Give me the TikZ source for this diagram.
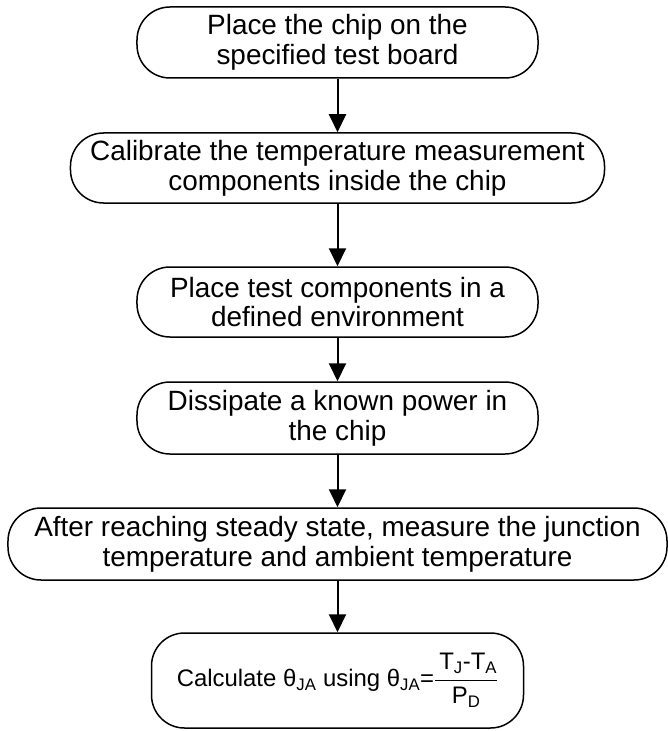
\documentclass[tikz,border=0pt]{standalone}
\usepackage{fontspec}
\setmainfont{Liberation Sans}
\usetikzlibrary{arrows.meta}

\begin{document}
\begin{tikzpicture}[x=1bp,y=-1bp,>={Triangle[length=18bp,width=17bp]},
    box/.style={draw,line width=1.5bp,rounded corners=33bp,minimum height=71bp,align=center,
      font=\fontsize{28}{30}\selectfont,inner sep=0pt}]
    \path (0,0) rectangle (658,731);

    \node[box,minimum width=401bp] (board) at (337.5,42.5) {Place the chip on the\\specified test board};
    \node[box,minimum width=534bp,minimum height=70bp] (calib) at (337.5,168) {Calibrate the temperature measurement\\components inside the chip};
    \node[box,minimum width=401bp,minimum height=70bp] (env) at (337.5,302) {Place test components in a\\defined environment};
    \node[box,minimum width=401bp,minimum height=72bp] (power) at (337.5,418) {Dissipate a known power in\\the chip};
    \node[box,minimum width=659bp,minimum height=72bp] (steady) at (337.5,544) {After reaching steady state, measure the junction\\temperature and ambient temperature};
    \node[box,minimum width=372bp,minimum height=95bp,font=\fontsize{24}{28}\selectfont] (theta) at (337.5,680.5)
      {Calculate θ\textsubscript{JA} using θ\textsubscript{JA}=$\displaystyle\frac{\mbox{\,T\textsubscript{J}-T\textsubscript{A}}}{\mbox{P\textsubscript{D}}}$};

    \foreach \a/\b in {board/calib,calib/env,env/power,power/steady,steady/theta}
      \draw[->,line width=2bp] (\a) -- (\b);
\end{tikzpicture}
\end{document}
